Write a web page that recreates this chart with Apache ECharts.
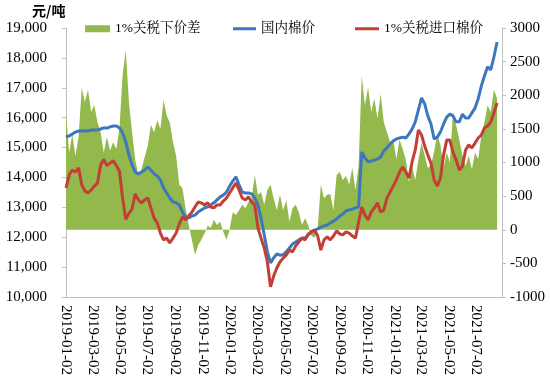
<!DOCTYPE html>
<html><head><meta charset="utf-8">
<script src="https://cdn.jsdelivr.net/npm/echarts@6/dist/echarts.min.js"></script>
<style>html,body{margin:0;padding:0;background:#fff}#c{width:550px;height:389px}</style>
</head><body><div id="c"></div>
<script>
const dates = [
'2019-01-02','2019-01-09','2019-01-16','2019-01-23','2019-01-30','2019-02-06','2019-02-13','2019-02-20','2019-02-27','2019-03-06',
'2019-03-13','2019-03-20','2019-03-27','2019-04-03','2019-04-10','2019-04-17','2019-04-24','2019-05-01','2019-05-08','2019-05-15',
'2019-05-22','2019-05-29','2019-06-05','2019-06-12','2019-06-19','2019-06-26','2019-07-03','2019-07-10','2019-07-17','2019-07-24',
'2019-07-31','2019-08-07','2019-08-14','2019-08-21','2019-08-28','2019-09-04','2019-09-11','2019-09-18','2019-09-25','2019-10-02',
'2019-10-09','2019-10-16','2019-10-23','2019-10-30','2019-11-06','2019-11-13','2019-11-20','2019-11-27','2019-12-04','2019-12-11',
'2019-12-18','2019-12-25','2020-01-01','2020-01-08','2020-01-15','2020-01-22','2020-01-29','2020-02-05','2020-02-12','2020-02-19',
'2020-02-26','2020-03-04','2020-03-11','2020-03-18','2020-03-25','2020-04-01','2020-04-08','2020-04-15','2020-04-22','2020-04-29',
'2020-05-06','2020-05-13','2020-05-20','2020-05-27','2020-06-03','2020-06-10','2020-06-17','2020-06-24','2020-07-01','2020-07-08',
'2020-07-15','2020-07-22','2020-07-29','2020-08-05','2020-08-12','2020-08-19','2020-08-26','2020-09-02','2020-09-09','2020-09-16',
'2020-09-23','2020-09-30','2020-10-07','2020-10-14','2020-10-21','2020-10-28','2020-11-04','2020-11-11','2020-11-18','2020-11-25',
'2020-12-02','2020-12-09','2020-12-16','2020-12-23','2020-12-30','2021-01-06','2021-01-13','2021-01-20','2021-01-27','2021-02-03',
'2021-02-10','2021-02-17','2021-02-24','2021-03-03','2021-03-10','2021-03-17','2021-03-24','2021-03-31','2021-04-07','2021-04-14',
'2021-04-21','2021-04-28','2021-05-05','2021-05-12','2021-05-19','2021-05-26','2021-06-02','2021-06-09','2021-06-16','2021-06-23',
'2021-06-30','2021-07-07','2021-07-14','2021-07-21','2021-07-28','2021-08-04','2021-08-11','2021-08-18'
];
// 1%关税下价差 (right axis)
const spread = [
1740,1150,1420,1100,1380,2110,1900,2080,1750,1850,
1600,1450,1150,1380,1180,1300,1200,1510,2300,2670,
1900,1450,1040,810,900,1080,1250,1560,1450,1630,
1500,1930,1700,1590,1300,1100,670,620,320,70,
-150,-370,-230,-150,-60,60,30,150,70,120,
-30,-150,0,260,220,290,370,320,410,470,
810,520,560,370,590,670,470,290,520,290,
440,120,320,370,260,70,170,60,-90,-120,
30,670,470,520,530,290,810,860,740,800,
670,920,590,950,2290,1850,2120,1750,1950,1650,
2020,1600,1450,1300,1350,1050,1340,1200,1040,710,
950,740,1040,1290,1110,920,960,1160,1420,1260,
920,1150,1000,1750,1550,1340,1100,950,1100,900,
1150,1050,1400,1600,1850,1750,2080,1950
];
// 国内棉价 (left axis)
const domestic = [
15350,15390,15450,15520,15550,15560,15550,15550,15590,15590,
15590,15620,15660,15650,15690,15720,15720,15660,15490,15190,
14750,14420,14180,14120,14180,14250,14350,14250,14120,14050,
13920,13650,13480,13310,13180,13150,13080,12840,12680,12640,
12710,12740,12840,12910,12980,13010,13080,13150,13250,13350,
13410,13510,13710,13880,14020,13750,13510,13480,13480,13450,
13310,13080,12640,12080,11510,11140,11310,11440,11400,11410,
11510,11640,11770,11840,11910,11970,11970,12080,12180,12240,
12280,12340,12380,12410,12480,12540,12610,12710,12780,12880,
12910,12940,12980,13010,14850,14650,14520,14550,14580,14620,
14680,14890,14990,15120,15220,15290,15320,15350,15320,15450,
15620,15860,16260,16660,16460,16060,15790,15290,15350,15520,
15790,16020,16120,16060,15860,15860,16120,15990,15990,16160,
16320,16630,17060,17400,17700,17600,18030,18530
];
// 1%关税进口棉价 (left axis)
const imported = [
13650,14080,14250,14180,14320,13750,13550,13480,13580,13710,
13810,14420,14600,14400,14480,14560,14400,14200,13300,12600,
12800,12950,13450,13250,13150,13250,13310,12980,12640,12480,
12140,11910,11970,11810,11970,12140,12440,12680,12580,12710,
12840,13010,13180,13150,13080,13150,13010,12980,13080,13080,
13210,13310,13480,13650,13810,13580,13310,13250,13350,13180,
13080,12310,11970,11640,11170,10340,10700,10970,11170,11300,
11400,11570,11510,11710,11840,11970,11910,12110,12180,12240,
12040,11570,11910,12010,11910,12040,12210,12110,12080,12180,
12140,12040,11970,12510,13010,12740,12580,12840,12980,13150,
12840,12910,13310,13510,13710,13920,14180,14350,14180,13980,
14520,14920,15590,15420,15050,14750,14480,13920,13710,13980,
14750,15250,15250,14850,14580,14250,14380,14920,15090,14990,
15150,15320,15420,15660,15720,15860,16160,16490
];
const xTickDates = ['2019-01-02','2019-03-02','2019-05-02','2019-07-02','2019-09-02','2019-11-02',
'2020-01-02','2020-03-02','2020-05-02','2020-07-02','2020-09-02','2020-11-02',
'2021-01-02','2021-03-02','2021-05-02','2021-07-02'];
const xMin = '2019-01-02', xMax = '2021-08-29';

const DAY = 86400000;
function utc(s){ const p = s.split('-').map(Number); return Date.UTC(p[0], p[1]-1, p[2]); }
function dayNum(s){ return Math.round((utc(s) - utc(xMin)) / DAY); }
function pad(n){ return (n<10?'0':'') + n; }
function fmtDay(v){ const d = new Date(utc(xMin) + Math.round(v) * DAY);
  return d.getUTCFullYear() + '-' + pad(d.getUTCMonth()+1) + '-' + pad(d.getUTCDate()); }

const FONT = "'Liberation Serif','Noto Serif CJK SC','Noto Sans CJK SC',serif";
const GREEN = '#93B84B', BLUE = '#3D77BD', RED = '#C43E38', AXIS = '#BFBFBF';

const chart = echarts.init(document.getElementById('c'), null, {renderer:'canvas'});
chart.setOption({
  animation: false,
  backgroundColor: '#fff',
  grid: {left: 66, right: 48, top: 28, bottom: 92, containLabel: false},
  graphic: [{type:'text', left: 32, top: 4, style:{text:'元/吨', font:"bold 14px 'Noto Sans CJK SC'", fill:'#000'}}],
  legend: [
    {left: 85, top: 22, padding: 0, itemWidth: 25, itemHeight: 7, textStyle:{fontFamily: FONT, fontSize: 13.5, color:'#000'},
     data:[{name:'1%关税下价差', icon:'rect'}]},
    {left: 233, top: 22, padding: 0, itemWidth: 23, itemHeight: 3, textStyle:{fontFamily: FONT, fontSize: 13.5, color:'#000'},
     data:[{name:'国内棉价', icon:'rect'}]},
    {left: 355, top: 22, padding: 0, itemWidth: 24, itemHeight: 3, textStyle:{fontFamily: FONT, fontSize: 13.5, color:'#000'},
     data:[{name:'1%关税进口棉价', icon:'rect'}]}
  ],
  xAxis: {
    type: 'value', min: 0, max: dayNum(xMax),
    axisLine: {show: true, onZero: false, lineStyle: {color: AXIS, width: 1}},
    axisTick: {show: false},
    splitLine: {show: false},
    axisLabel: {customValues: xTickDates.map(dayNum), rotate: -90, margin: 8, formatter: fmtDay,
      fontFamily: FONT, fontSize: 15, color: '#000', hideOverlap: false}
  },
  yAxis: [
    {type: 'value', min: 10000, max: 19000, interval: 1000, position: 'left',
     axisLine: {show: true, lineStyle: {color: AXIS}},
     axisTick: {show: true, length: 4, lineStyle: {color: AXIS}},
     splitLine: {show: false},
     axisLabel: {margin: 19, fontFamily: FONT, fontSize: 15, color: '#000',
       formatter: v => v.toLocaleString('en-US')}},
    {type: 'value', min: -1000, max: 3000, interval: 500, position: 'right',
     axisLine: {show: true, lineStyle: {color: AXIS}},
     axisTick: {show: true, length: 4, lineStyle: {color: AXIS}},
     splitLine: {show: false},
     axisLabel: {margin: 8, fontFamily: FONT, fontSize: 15, color: '#000',
       formatter: v => String(v)}}
  ],
  series: [
    {name: '1%关税下价差', type: 'line', yAxisIndex: 1, symbol: 'none', showSymbol: false,
     data: dates.map((d, i) => [dayNum(d), spread[i]]),
     itemStyle: {color: GREEN}, lineStyle: {width: 0, color: GREEN},
     areaStyle: {color: GREEN, opacity: 1, origin: 'auto'}, z: 1},
    {name: '国内棉价', type: 'line', yAxisIndex: 0, symbol: 'none', showSymbol: false,
     data: dates.map((d, i) => [dayNum(d), domestic[i]]),
     itemStyle: {color: BLUE}, lineStyle: {width: 3, color: BLUE}, z: 2},
    {name: '1%关税进口棉价', type: 'line', yAxisIndex: 0, symbol: 'none', showSymbol: false,
     data: dates.map((d, i) => [dayNum(d), imported[i]]),
     itemStyle: {color: RED}, lineStyle: {width: 3, color: RED}, z: 3}
  ]
});
</script></body></html>
